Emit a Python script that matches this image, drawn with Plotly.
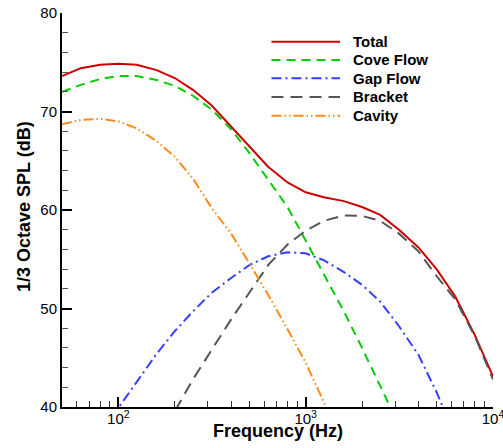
import plotly.graph_objects as go

# 1/3-octave band centre frequencies (Hz)
freq = [50, 63, 80, 100, 125, 160, 200, 250, 315, 400, 500, 630,
        800, 1000, 1250, 1600, 2000, 2500, 3150, 4000, 5000, 6300, 8000, 10000]

total = [73.6, 74.4, 74.75, 74.85, 74.75, 74.2, 73.4, 72.2, 70.6, 68.5, 66.5, 64.4,
         62.8, 61.8, 61.3, 60.9, 60.3, 59.5, 58.0, 56.2, 54.0, 51.2, 47.3, 43.1]
cove_flow = [72.0, 72.7, 73.3, 73.6, 73.6, 73.2, 72.6, 71.6, 70.2, 68.2, 65.8, 63.1,
             60.3, 56.9, 53.5, 49.7, 46.0, 42.2, 38.3, 34.0, None, None, None, None]
gap_flow = [None, None, 37.3, 39.9, 42.5, 45.4, 47.7, 49.7, 51.6, 53.1, 54.4, 55.3,
            55.7, 55.6, 54.9, 53.7, 52.4, 50.7, 48.2, 45.3, 41.5, 37.0, None, None]
bracket = [None, None, None, None, None, 36.3, 39.6, 42.8, 45.8, 48.9, 51.6, 54.4,
           56.5, 57.9, 58.9, 59.45, 59.4, 58.9, 57.6, 55.8, 53.3, 50.9, 47.2, 42.8]
cavity = [68.7, 69.15, 69.25, 69.0, 68.3, 67.0, 65.4, 63.2, 60.2, 57.6, 54.6, 51.4,
          47.9, 44.5, 40.5, 36.0, None, None, None, None, None, None, None, None]

series_names = ["Total", "Cove Flow", "Gap Flow", "Bracket", "Cavity"]
series_vals = [total, cove_flow, gap_flow, bracket, cavity]
colors = ["#cc0000", "#00cc00", "#3340ff", "#555555", "#ff8a1c"]
dashes = ["solid", "9px,6px", "10px,4px,2px,4px", "12px,7px",
          "10px,3px,1.5px,3px,1.5px,3px"]

x_major = [100, 1000, 10000]
x_major_text = ["10<sup>2</sup>", "10<sup>3</sup>", "10<sup>4</sup>"]
x_minor = [50, 60, 70, 80, 90, 200, 300, 400, 500, 600, 700, 800, 900,
           2000, 3000, 4000, 5000, 6000, 7000, 8000, 9000]
y_major = [40, 50, 60, 70, 80]

FONT = "Liberation Sans, Arial, sans-serif"

fig = go.Figure()
for name, vals, c, d in zip(series_names, series_vals, colors, dashes):
    fig.add_trace(go.Scatter(x=freq, y=vals, mode="lines", name=name,
                             line=dict(color=c, width=2, dash=d),
                             connectgaps=False, showlegend=False))

# plot area geometry (px)
L, R, T, B = 62, 10, 13, 41
W, H = 503, 448
pw, ph = W - L - R, H - T - B

def px(x):
    return (x - L) / pw

def py(y):
    return 1 - (y - T) / ph

shapes = []
annotations = []
rows = [41.7, 60.0, 78.3, 97.0, 115.7]
for name, c, d, ry in zip(series_names, colors, dashes, rows):
    shapes.append(dict(type="line", xref="paper", yref="paper",
                       x0=px(271.5), x1=px(340), y0=py(ry), y1=py(ry),
                       line=dict(color=c, width=2, dash=d)))
    annotations.append(dict(text=name, xref="paper", yref="paper",
                            x=px(351), y=py(ry), xanchor="left", yanchor="middle",
                            showarrow=False,
                            font=dict(family=FONT, size=15, color="black", weight="bold")))

annotations.append(dict(text="Frequency (Hz)", xref="paper", yref="paper",
                        x=px(278), y=0, yshift=-(431 - 407), xanchor="center",
                        yanchor="middle", showarrow=False,
                        font=dict(family=FONT, size=18, color="black", weight="bold")))
annotations.append(dict(text="1/3 Octave SPL (dB)", xref="paper", yref="paper",
                        x=0, xshift=23.5 - L, y=py(206.5), xanchor="center",
                        yanchor="middle", textangle=-90, showarrow=False,
                        font=dict(family=FONT, size=18, color="black", weight="bold")))

fig.update_layout(
    width=W, height=H,
    margin=dict(l=L, r=R, t=T, b=B, pad=0, autoexpand=False),
    paper_bgcolor="white", plot_bgcolor="white",
    font=dict(family=FONT, size=15, color="black"),
    shapes=shapes, annotations=annotations,
    showlegend=False,
)
fig.update_xaxes(
    type="log", range=[1.69897, 4.0002], showgrid=False, zeroline=False,
    automargin=False,
    showline=True, linecolor="black", linewidth=2,
    tickmode="array", tickvals=x_major, ticktext=x_major_text,
    ticks="inside", ticklen=10, tickwidth=2, tickcolor="black",
    ticklabelstandoff=-3, ticklabeloverflow="allow",
    tickfont=dict(family=FONT, size=15, color="black"),
    minor=dict(tickmode="array", tickvals=x_minor, ticks="inside", ticklen=6,
               tickwidth=1, tickcolor="#333333", showgrid=False),
)
fig.update_yaxes(
    range=[40, 80], showgrid=False, zeroline=False,
    automargin=False,
    showline=True, linecolor="black", linewidth=2,
    tickmode="array", tickvals=y_major,
    ticks="inside", ticklen=10, tickwidth=2, tickcolor="black",
    ticklabelstandoff=0,
    tickfont=dict(family=FONT, size=15, color="black"),
    minor=dict(dtick=2, ticks="inside", ticklen=6, tickwidth=1,
               tickcolor="#555555", showgrid=False),
)

fig.write_html("out.html", config={"displayModeBar": False},
               post_script="document.body.style.margin='0';document.body.style.overflow='hidden';")
